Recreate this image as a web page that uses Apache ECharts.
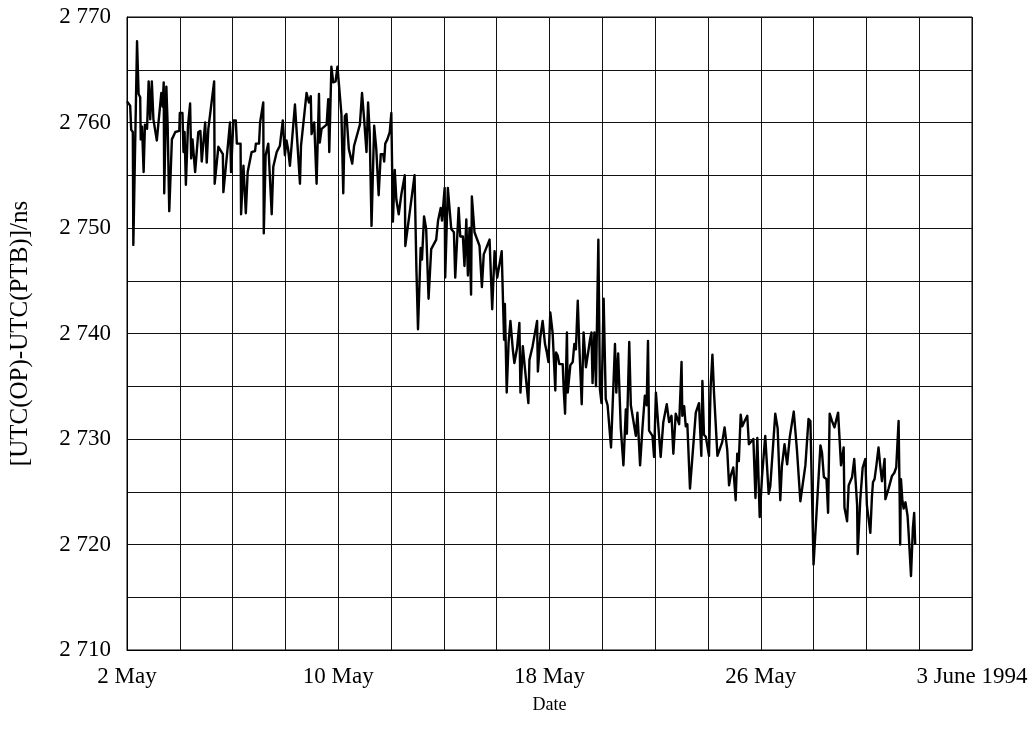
<!DOCTYPE html>
<html>
<head>
<meta charset="utf-8">
<script src="https://cdn.jsdelivr.net/npm/echarts@6/dist/echarts.min.js"></script>
<style>
  html, body { margin: 0; padding: 0; background: #fff; }
  #chart { width: 1036px; height: 742px; }
</style>
</head>
<body>
<div id="chart"></div>
<script>
// Time of each measurement, in days after 2 May 1994 00:00
const dayOffsets = [
  0.00, 0.12, 0.16, 0.22, 0.24, 0.38, 0.44, 0.50, 0.52, 0.57, 0.63, 0.68, 0.76, 0.82, 0.88, 0.94,
  1.00, 1.13, 1.20, 1.30, 1.35, 1.39, 1.41, 1.49, 1.54, 1.60, 1.70, 1.83, 1.98,
  2.00, 2.10, 2.14, 2.18, 2.23, 2.31, 2.39, 2.43, 2.48, 2.58, 2.70, 2.78, 2.83, 2.96,
  3.02, 3.08, 3.30, 3.32, 3.46, 3.63, 3.65, 3.82, 3.90, 3.94,
  4.03, 4.12, 4.16, 4.30, 4.32, 4.41, 4.50, 4.57, 4.72, 4.85, 4.88,
  5.00, 5.04, 5.16, 5.18, 5.25, 5.35, 5.48, 5.54, 5.67, 5.79, 5.90, 5.98,
  6.04, 6.10, 6.17, 6.36, 6.55, 6.59, 6.80, 6.89, 6.96, 6.99,
  7.09, 7.18, 7.27, 7.30, 7.37, 7.56, 7.62, 7.66, 7.74, 7.81, 7.90, 7.97,
  8.02, 8.12, 8.19, 8.25, 8.31, 8.40, 8.53, 8.60, 8.82, 8.90, 8.98,
  9.07, 9.13, 9.19, 9.26, 9.36, 9.44, 9.53, 9.61, 9.70, 9.74, 9.78, 9.86, 9.95,
  10.01, 10.07, 10.14, 10.20, 10.29, 10.39, 10.52, 10.54, 10.89, 10.96,
  11.02, 11.12, 11.17, 11.25, 11.33, 11.42, 11.52, 11.71, 11.78, 11.88, 11.93,
  12.03, 12.05, 12.15, 12.28, 12.38, 12.43, 12.56, 12.62, 12.72, 12.78, 12.85, 12.91, 12.97,
  13.03, 13.06, 13.16, 13.35, 13.44, 13.51, 13.73, 13.83, 13.92,
  14.02, 14.19, 14.24, 14.28, 14.31, 14.38, 14.45, 14.52, 14.61, 14.67, 14.77, 14.86, 14.90, 14.99,
  15.05, 15.20, 15.24, 15.36, 15.53, 15.56, 15.65, 15.74, 15.83, 15.90, 15.96,
  16.03, 16.12, 16.22, 16.25, 16.31, 16.37, 16.50, 16.54, 16.59, 16.66, 16.69, 16.79, 16.88, 16.94,
  17.00, 17.07, 17.13, 17.22, 17.29, 17.38, 17.54, 17.59, 17.63, 17.70, 17.76, 17.85, 17.91, 17.97,
  18.05, 18.13, 18.20, 18.33, 18.48, 18.53, 18.60, 18.70, 18.80, 18.89, 18.93,
  19.02, 19.08, 19.27, 19.33, 19.43, 19.52, 19.61, 19.68, 19.73, 19.77, 19.90, 19.96,
  20.03, 20.11, 20.21, 20.31, 20.44, 20.53, 20.62, 20.69, 20.78, 20.91, 20.97,
  21.00, 21.03, 21.10, 21.16, 21.22, 21.32, 21.54, 21.66, 21.75, 21.79, 21.85, 21.92,
  22.04, 22.10, 22.17, 22.23, 22.36, 22.54, 22.63, 22.73, 22.80, 22.86, 22.96,
  23.05, 23.11, 23.17, 23.24, 23.30, 23.39, 23.49, 23.55, 23.72, 23.80, 23.87, 23.96,
  24.05, 24.17, 24.30, 24.36, 24.55, 24.64, 24.74, 24.80, 24.90,
  25.00, 25.10, 25.25, 25.37, 25.50, 25.69, 25.81, 25.88,
  26.00, 26.26, 26.32, 26.39, 26.49, 26.55, 26.61, 26.70, 26.79, 26.93,
  27.04, 27.14, 27.17, 27.27, 27.33, 27.46, 27.54, 27.65, 27.67, 27.77, 27.86, 27.96,
  28.02, 28.15, 28.21, 28.25, 28.31, 28.38, 28.46, 28.52, 28.59, 28.69, 28.72, 28.84, 28.97,
  29.06, 29.13, 29.22, 29.26, 29.28, 29.31, 29.36, 29.41, 29.48, 29.56, 29.60, 29.69, 29.76, 29.81, 29.85
];

// UTC(OP) - UTC(PTB), ns
const offsetNs = [
  2762.0, 2761.6, 2759.3, 2759.1, 2748.4, 2767.7, 2762.7, 2762.4, 2758.4, 2759.6, 2755.3, 2759.8, 2759.4, 2763.9, 2760.3, 2763.9,
  2760.3, 2758.3, 2760.2, 2762.8, 2761.5, 2763.8, 2753.3, 2763.4, 2759.7, 2751.6, 2758.4, 2759.1, 2759.2,
  2760.9, 2760.9, 2757.2, 2759.1, 2754.1, 2759.7, 2761.8, 2756.6, 2758.4, 2755.3, 2759.1, 2759.2, 2756.3, 2760.0,
  2756.2, 2759.4, 2763.9, 2754.2, 2757.7, 2757.0, 2753.4, 2757.8, 2760.0, 2755.3,
  2760.2, 2760.2, 2758.0, 2758.0, 2751.3, 2755.9, 2751.4, 2755.3, 2757.2, 2757.3, 2758.0,
  2758.0, 2760.0, 2761.9, 2749.5, 2756.9, 2758.0, 2751.3, 2755.8, 2757.2, 2757.8, 2760.2, 2756.9,
  2758.3, 2757.5, 2755.9, 2761.7, 2754.2, 2757.8, 2762.8, 2761.9, 2762.5, 2758.9,
  2760.0, 2754.2, 2762.7, 2758.1, 2759.4, 2759.8, 2762.2, 2757.2, 2765.3, 2763.8, 2763.9, 2765.3,
  2763.8, 2760.8, 2753.3, 2760.6, 2760.8, 2757.5, 2756.1, 2757.8, 2759.8, 2762.8, 2760.3,
  2757.2, 2761.9, 2759.1, 2750.2, 2759.7, 2757.5, 2753.1, 2757.0, 2757.0, 2756.3, 2758.0, 2758.4, 2759.1,
  2760.9, 2750.6, 2755.5, 2752.7, 2751.3, 2753.2, 2755.0, 2748.3, 2755.0, 2746.1,
  2740.4, 2748.1, 2747.0, 2751.1, 2749.9, 2743.3, 2748.0, 2748.9, 2750.7, 2751.9, 2750.7,
  2753.8, 2745.3, 2753.8, 2749.9, 2749.6, 2745.3, 2751.9, 2749.2, 2749.2, 2746.4, 2750.8, 2745.5, 2750.0,
  2743.7, 2753.0, 2749.6, 2748.3, 2744.4, 2747.5, 2748.9, 2742.3, 2747.8,
  2745.3, 2747.8, 2743.0, 2739.4, 2742.8, 2734.4, 2739.1, 2741.2, 2738.5, 2737.2, 2738.6, 2741.0, 2734.4, 2738.8,
  2737.2, 2733.4, 2737.5, 2738.8, 2741.2, 2736.4, 2739.6, 2741.2, 2739.0, 2738.2, 2737.3,
  2742.0, 2740.0, 2734.6, 2738.2, 2737.9, 2737.1, 2737.1, 2734.6, 2732.4, 2740.1, 2734.4, 2737.0, 2737.3, 2739.0,
  2738.5, 2743.1, 2738.8, 2733.3, 2740.1, 2736.8, 2739.5, 2740.1, 2735.3, 2740.1, 2735.0, 2748.9, 2734.7, 2733.4,
  2743.3, 2733.8, 2733.2, 2729.2, 2739.0, 2734.4, 2738.1, 2731.0, 2727.5, 2732.8, 2730.5,
  2739.2, 2733.2, 2730.3, 2732.5, 2727.5, 2731.0, 2734.1, 2733.2, 2739.3, 2730.8, 2730.3, 2728.3,
  2734.4, 2731.6, 2728.3, 2731.6, 2733.3, 2731.6, 2732.2, 2728.6, 2732.4, 2731.4, 2735.2,
  2737.3, 2732.2, 2733.1, 2731.2, 2731.4, 2725.3, 2732.5, 2733.4, 2728.4, 2735.5, 2730.4, 2730.2,
  2728.4, 2734.8, 2738.0, 2734.4, 2728.4, 2729.7, 2731.1, 2729.0, 2725.6, 2726.5, 2727.3,
  2724.2, 2728.6, 2727.9, 2732.3, 2731.2, 2731.7, 2732.2, 2729.5, 2730.0, 2724.4, 2730.1, 2722.6,
  2726.5, 2730.3, 2724.8, 2725.5, 2732.4, 2731.0, 2724.2, 2727.4, 2729.5,
  2727.6, 2730.2, 2732.6, 2729.0, 2724.1, 2727.5, 2731.9, 2731.7,
  2718.1, 2729.4, 2728.7, 2726.4, 2726.2, 2723.0, 2732.4, 2731.7, 2731.1, 2732.5,
  2727.5, 2729.2, 2723.5, 2722.2, 2725.6, 2726.4, 2728.1, 2723.7, 2719.1, 2724.3, 2727.3, 2728.1,
  2723.7, 2721.1, 2724.5, 2725.9, 2726.2, 2727.5, 2729.2, 2727.6, 2726.0, 2728.1, 2724.3, 2725.3, 2726.5,
  2726.8, 2727.3, 2731.7, 2724.6, 2720.0, 2726.2, 2724.3, 2723.4, 2724.0, 2722.7, 2721.1, 2717.0, 2721.5, 2723.0, 2720.0
];

// Labelled date ticks (days after 2 May 1994)
const xTickDays = [0, 8, 16, 24, 32];
const xTickLabels = ['2 May', '10 May', '18 May', '26 May', '3 June 1994'];

const FONT = 'Liberation Serif, Times New Roman, serif';

const chart = echarts.init(document.getElementById('chart'), null, { renderer: 'canvas' });

const points = dayOffsets.map((d, i) => [d, offsetNs[i]]);

chart.setOption({
  animation: false,
  backgroundColor: '#fff',
  grid: {
    left: 125, top: 17, right: 64, bottom: 92,
    show: true, borderColor: '#000', borderWidth: 1
  },
  xAxis: {
    type: 'value',
    min: 0, max: 32, interval: 2,
    name: 'Date',
    nameLocation: 'middle',
    nameGap: 46,
    nameTextStyle: { fontFamily: FONT, fontSize: 18, color: '#000' },
    axisLine: { show: true, lineStyle: { color: '#000', width: 1 } },
    axisTick: { show: false },
    splitLine: { show: true, lineStyle: { color: '#111', width: 1 } },
    axisLabel: {
      fontFamily: FONT, fontSize: 23, color: '#000', margin: 15,
      showMinLabel: true, showMaxLabel: true,
      formatter: v => {
        const k = xTickDays.indexOf(v);
        return k >= 0 ? xTickLabels[k] : '';
      }
    }
  },
  yAxis: {
    type: 'value',
    min: 2710, max: 2770, interval: 5,
    name: '[UTC(OP)-UTC(PTB)]/ns',
    nameLocation: 'middle',
    nameGap: 94,
    nameTextStyle: { fontFamily: FONT, fontSize: 25, color: '#000' },
    axisLine: { show: true, lineStyle: { color: '#000', width: 1 } },
    axisTick: { show: false },
    splitLine: { show: true, lineStyle: { color: '#111', width: 1 } },
    axisLabel: {
      fontFamily: FONT, fontSize: 23, color: '#000', margin: 16,
      showMinLabel: true, showMaxLabel: true,
      formatter: v => {
        if (v % 10 !== 0) return '';
        const s = String(v);
        return s.slice(0, s.length - 3) + ' ' + s.slice(-3);
      }
    }
  },
  series: [{
    type: 'line',
    data: points,
    showSymbol: false,
    symbol: 'none',
    lineStyle: { color: '#000', width: 2.4, join: 'round' },
    z: 5
  }]
});
</script>
</body>
</html>
